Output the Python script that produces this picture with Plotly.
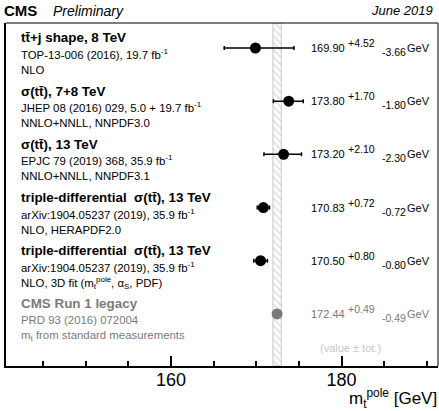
import plotly.graph_objects as go

# ---- data ----
titles = ["tt\u0304+j shape, 8 TeV", "\u03c3(tt\u0304), 7+8 TeV", "\u03c3(tt\u0304), 13 TeV",
          "triple-differential  \u03c3(tt\u0304), 13 TeV", "triple-differential  \u03c3(tt\u0304), 13 TeV",
          "CMS Run 1 legacy"]
refs = ["TOP-13-006 (2016), 19.7 fb<sup>-1</sup>", "JHEP 08 (2016) 029, 5.0 + 19.7 fb<sup>-1</sup>",
        "EPJC 79 (2019) 368, 35.9 fb<sup>-1</sup>", "arXiv:1904.05237 (2019), 35.9 fb<sup>-1</sup>",
        "arXiv:1904.05237 (2019), 35.9 fb<sup>-1</sup>", "PRD 93 (2016) 072004"]
notes = ["NLO", "NNLO+NNLL, NNPDF3.0", "NNLO+NNLL, NNPDF3.1", "NLO, HERAPDF2.0",
         "NLO, 3D fit (m<sub>t</sub><sup>pole</sup>, \u03b1<sub>S</sub>, PDF)",
         "m<sub>t</sub> from standard measurements"]
values = [169.90, 173.80, 173.20, 170.83, 170.50, 172.44]
err_up = [4.52, 1.70, 2.10, 0.72, 0.80, 0.49]
err_dn = [3.66, 1.80, 2.30, 0.72, 0.80, 0.49]
rows = [6, 5, 4, 3, 2, 1]
ref_index = 5  # CMS Run 1 legacy defines the band

# ---- layout geometry (pixels) ----
X0, W, Y0, H = 6, 432, 23, 343
def px(x):
    return (x - X0) / W
def py(y):
    return 1 - (y - Y0) / H

XR = [140.66, 191.3]
YR = [0.02, 6.47]
BLACK = "black"
GRAY = "#7a7a7a"
LIGHT = "#c8c8c8"
FONT = "Liberation Sans"

fig = go.Figure()

# band
lo = values[ref_index] - err_dn[ref_index]
hi = values[ref_index] + err_up[ref_index]
fig.add_trace(go.Scatter(
    x=[lo, hi, hi, lo, lo], y=[YR[0], YR[0], YR[1], YR[1], YR[0]],
    mode="lines", fill="toself", line=dict(color=LIGHT, width=1),
    fillcolor="white",
    fillpattern=dict(shape="\\", fgcolor="#bdbdbd", bgcolor="white", size=5, solidity=0.3),
    hoverinfo="skip"))

# points
for idxs, col in [([0, 1, 2, 3, 4], BLACK), ([5], GRAY)]:
    fig.add_trace(go.Scatter(
        x=[values[i] for i in idxs], y=[rows[i] for i in idxs], mode="markers",
        marker=dict(color=col, size=11),
        error_x=dict(type="data", symmetric=False,
                     array=[err_up[i] for i in idxs], arrayminus=[err_dn[i] for i in idxs],
                     color=col, thickness=1.5, width=2)))

ann = []
for i in range(len(values)):
    col = GRAY if i == ref_index else BLACK
    ann.append(dict(x=px(19), xref="paper", y=rows[i], yref="y", yshift=10,
                    text="<b>" + titles[i] + "</b>", showarrow=False, xanchor="left",
                    yanchor="middle", font=dict(size=13.4, color=col, family=FONT)))
    ann.append(dict(x=px(19), xref="paper", y=rows[i], yref="y", yshift=-6,
                    text=refs[i], showarrow=False, xanchor="left", yanchor="middle",
                    font=dict(size=11.4, color=col, family=FONT)))
    ann.append(dict(x=px(19), xref="paper", y=rows[i], yref="y", yshift=-22,
                    text=notes[i], showarrow=False, xanchor="left", yanchor="middle",
                    font=dict(size=11.4, color=col, family=FONT)))
    # value text
    ann.append(dict(x=px(309), xref="paper", y=rows[i], yref="y", yshift=0,
                    text=f"{values[i]:.2f}", showarrow=False, xanchor="left", yanchor="middle",
                    font=dict(size=11, color=col, family=FONT)))
    ann.append(dict(x=px(346), xref="paper", y=rows[i], yref="y", yshift=5,
                    text=f"+{err_up[i]:.2f}", showarrow=False, xanchor="left", yanchor="middle",
                    font=dict(size=10.5, color=col, family=FONT)))
    ann.append(dict(x=px(380), xref="paper", y=rows[i], yref="y", yshift=-4,
                    text=f"-{err_dn[i]:.2f}", showarrow=False, xanchor="left", yanchor="middle",
                    font=dict(size=10.5, color=col, family=FONT)))
    ann.append(dict(x=px(405), xref="paper", y=rows[i], yref="y", yshift=0,
                    text="GeV", showarrow=False, xanchor="left", yanchor="middle",
                    font=dict(size=11, color=col, family=FONT)))

ann += [
    dict(x=px(2), xref="paper", y=py(11), yref="paper", text="<b>CMS</b>", showarrow=False,
         xanchor="left", yanchor="middle", font=dict(size=15, color=BLACK, family=FONT)),
    dict(x=px(51), xref="paper", y=py(11), yref="paper", text="<i>Preliminary</i>", showarrow=False,
         xanchor="left", yanchor="middle", font=dict(size=14, color=BLACK, family=FONT)),
    dict(x=px(435), xref="paper", y=py(11), yref="paper", text="<i>June 2019</i>", showarrow=False,
         xanchor="right", yanchor="middle", font=dict(size=13, color=BLACK, family=FONT)),
    dict(x=px(350), xref="paper", y=py(348), yref="paper", text="(value \u00b1 tot.)", showarrow=False,
         xanchor="center", yanchor="middle", font=dict(size=11, color=LIGHT, family=FONT)),
    dict(x=px(439), xref="paper", y=py(399), yref="paper",
         text="m<sub>t</sub><sup>pole</sup> [GeV]", showarrow=False,
         xanchor="right", yanchor="middle", font=dict(size=17, color=BLACK, family=FONT)),
]

fig.update_layout(
    width=439, height=411, margin=dict(l=6, r=1, t=23, b=45),
    plot_bgcolor="white", paper_bgcolor="white", showlegend=False,
    font=dict(family=FONT, color=BLACK),
    annotations=ann,
    xaxis=dict(range=XR, tickvals=[160, 180], ticks="inside", ticklen=10, tickwidth=1.5,
               tickcolor=BLACK, tickfont=dict(size=18, family=FONT), showgrid=False,
               ticklabelstandoff=-4,
               zeroline=False, showline=True, linewidth=2, linecolor=BLACK,
               minor=dict(ticks="inside", ticklen=5, tickwidth=1.5, tick0=140, dtick=5,
                          tickcolor=BLACK, showgrid=False)),
    yaxis=dict(range=YR, showticklabels=False, ticks="", showgrid=False, zeroline=False,
               showline=True, linewidth=2, linecolor=BLACK),
    shapes=[
        dict(type="line", xref="paper", yref="paper", x0=0, x1=1, y0=1, y1=1,
             line=dict(color=BLACK, width=1)),
        dict(type="line", xref="paper", yref="paper", x0=1, x1=1, y0=0, y1=1,
             line=dict(color=BLACK, width=1)),
    ],
)

fig.write_html("out.html")
